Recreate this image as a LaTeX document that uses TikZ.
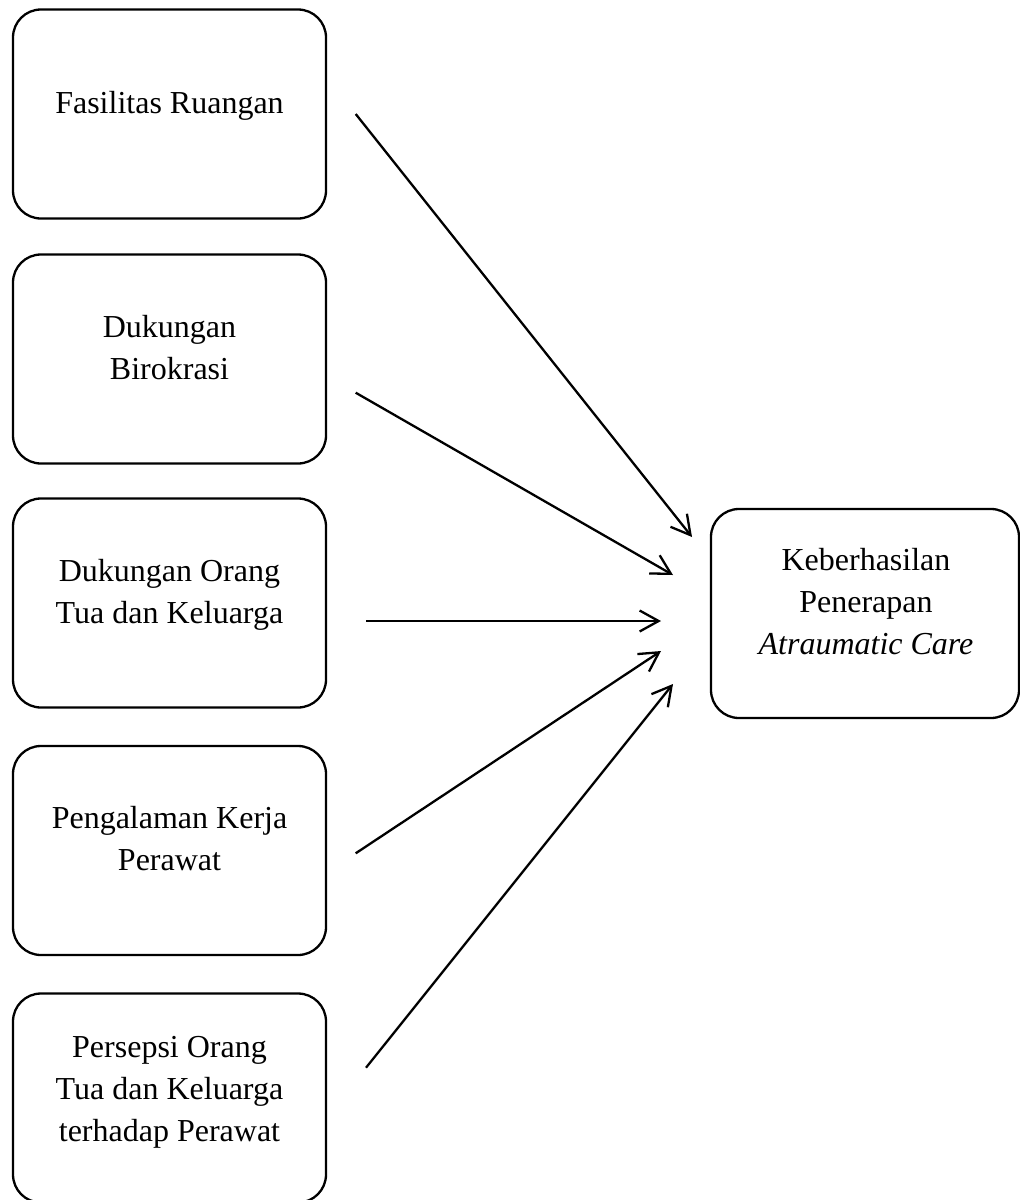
\documentclass[tikz,border=0pt]{standalone}
\usepackage{fontspec}
\setmainfont{Liberation Serif}
\usetikzlibrary{arrows.meta}
\begin{document}
\begin{tikzpicture}[x=1pt,y=-1pt,
  box/.style={draw, line width=2.3pt, rounded corners=28pt, minimum width=313pt, minimum height=209pt, inner sep=0pt},
  txt/.style={anchor=base, inner sep=0pt, font=\fontsize{32}{42}\selectfont},
  conn/.style={line width=2.3pt, -{Straight Barb[length=19pt,width=21pt]}}]
\useasboundingbox (0,0) rectangle (1020,1200);
\clip (0,0) rectangle (1020,1200);
% boxes
\node[box] (b1) at (169.5,114) {};
\node[box] (b2) at (169.5,359) {};
\node[box] (b3) at (169.5,603) {};
\node[box] (b4) at (169.5,850.5) {};
\node[box] (b5) at (169.5,1098) {};
\node[box, minimum width=308pt] (r) at (865,613.5) {};
% texts
\node[txt] (t1) at (169.5,113) {\begin{tabular}[t]{@{}c@{}}Fasilitas Ruangan\end{tabular}};
\node[txt] (t2) at (169.5,337) {\begin{tabular}[t]{@{}c@{}}Dukungan\\Birokrasi\end{tabular}};
\node[txt] (t3) at (169.5,581) {\begin{tabular}[t]{@{}c@{}}Dukungan Orang\\Tua dan Keluarga\end{tabular}};
\node[txt] (t4) at (169.5,828) {\begin{tabular}[t]{@{}c@{}}Pengalaman Kerja\\Perawat\end{tabular}};
\node[txt] (t5) at (169.5,1057) {\begin{tabular}[t]{@{}c@{}}Persepsi Orang\\Tua dan Keluarga\\terhadap Perawat\end{tabular}};
\node[txt] (tr) at (866,570) {\begin{tabular}[t]{@{}c@{}}Keberhasilan\\Penerapan\\\textit{Atraumatic Care}\end{tabular}};
% connector endpoints
\coordinate (s1) at (355.7,114);   \coordinate (e1) at (692,537);
\coordinate (s2) at (355.7,392.7); \coordinate (e2) at (673,575);
\coordinate (s3) at (366,621);     \coordinate (e3) at (661,621);
\coordinate (s4) at (355.7,853.3); \coordinate (e4) at (661,651);
\coordinate (s5) at (366,1067.7);  \coordinate (e5) at (673,684);
\draw[conn] (s1) -- (e1);
\draw[conn] (s2) -- (e2);
\draw[conn] (s3) -- (e3);
\draw[conn] (s4) -- (e4);
\draw[conn] (s5) -- (e5);
\end{tikzpicture}
\end{document}
